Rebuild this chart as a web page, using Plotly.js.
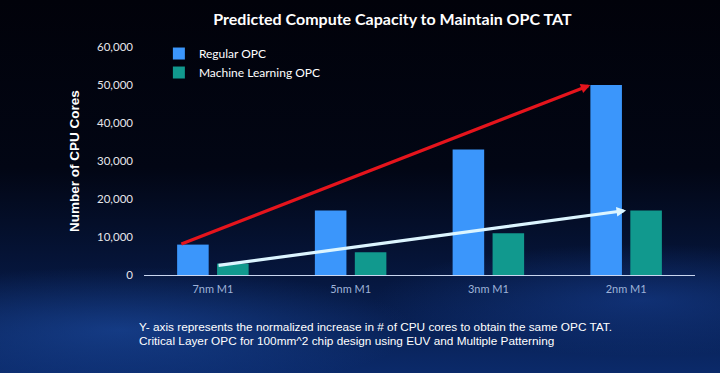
<!DOCTYPE html>
<html>
<head>
<meta charset="utf-8">
<script src="https://cdn.plot.ly/plotly-3.0.1.min.js"></script>
<style>
html,body{margin:0;padding:0;}
body{width:720px;height:373px;overflow:hidden;
background:
 radial-gradient(ellipse 420px 90px at 120px 330px, rgba(30,80,170,0.55), rgba(0,0,0,0) 70%),
 radial-gradient(ellipse 380px 80px at 640px 300px, rgba(25,70,160,0.5), rgba(0,0,0,0) 70%),
 linear-gradient(to bottom, #01020a 0%, #020614 45%, #06173f 75%, #0b2a6a 100%);}
#chart{width:720px;height:373px;}
</style>
</head>
<body>
<div id="chart"></div>
<script>
var categories = ["7nm M1", "5nm M1", "3nm M1", "2nm M1"];
var regularOPC = [8000, 17000, 33000, 50000];
var mlOPC = [3000, 6000, 11000, 17000];
var seriesNames = ["Regular OPC", "Machine Learning OPC"];
var yTickVals = [0, 10000, 20000, 30000, 40000, 50000, 60000];
var footnotes = [
  "Y- axis represents the normalized increase in # of CPU cores to obtain the same OPC TAT.",
  "Critical Layer OPC for 100mm^2 chip design using EUV and Multiple Patterning"
];

var traces = [
  {type: "bar", name: seriesNames[0], x: categories, y: regularOPC,
   marker: {color: "#3b96fb"}, hoverinfo: "skip"},
  {type: "bar", name: seriesNames[1], x: categories, y: mlOPC,
   marker: {color: "#11998e"}, hoverinfo: "skip"}
];

// left edges of bars in category units (derived from bargap/bargroupgap)
var bargap = 0.42, bargroupgap = 0.21;
var slot = (1 - bargap) / 2;
var blueLeft = -slot + slot * bargroupgap / 2;
var tealLeft = slot * bargroupgap / 2;
var last = categories.length - 1;

var layout = {
  width: 720, height: 373,
  margin: {l: 144, r: 25, t: 47, b: 98},
  paper_bgcolor: "rgba(0,0,0,0)",
  plot_bgcolor: "rgba(0,0,0,0)",
  barmode: "group",
  bargap: bargap,
  bargroupgap: bargroupgap,
  font: {family: "Lato, 'Open Sans', sans-serif", color: "#e8e8ee"},
  title: {
    text: "<b>Predicted Compute Capacity to Maintain OPC TAT</b>",
    font: {family: "Lato, 'Open Sans', sans-serif", size: 16, color: "#ffffff"},
    x: 0.545, xanchor: "center", xref: "container",
    y: 0.949, yanchor: "middle", yref: "container"
  },
  xaxis: {
    type: "category",
    showline: true, linecolor: "#c9d6f0", linewidth: 1,
    ticks: "", showgrid: false, zeroline: false,
    tickfont: {family: "Lato, sans-serif", size: 11, color: "#9fb3d8"},
    ticklabelstandoff: 4
  },
  yaxis: {
    range: [0, 60000],
    tickvals: yTickVals,
    tickformat: ",",
    showgrid: false, zeroline: false, showline: false, ticks: "",
    tickfont: {family: "Lato, sans-serif", size: 11.5, color: "#e6e6ea"},
    ticklabelstandoff: 10,
    title: {
      text: "<b>Number of CPU Cores</b>",
      font: {family: "'Liberation Sans', Arial, sans-serif", size: 13.5, color: "#ffffff"},
      standoff: 14
    }
  },
  legend: {
    x: 0.027, xanchor: "left", y: 1.035, yanchor: "top",
    bgcolor: "rgba(0,0,0,0)",
    font: {family: "Lato, sans-serif", size: 12, color: "#ffffff"},
    tracegroupgap: 0
  },
  showlegend: true,
  annotations: [
    {x: last + blueLeft, y: regularOPC[last], xref: "x", yref: "y",
     ax: 0 + blueLeft + 0.02, ay: regularOPC[0], axref: "x", ayref: "y",
     showarrow: true, arrowhead: 2, arrowsize: 0.6, arrowwidth: 3.2,
     arrowcolor: "#e5141c", standoff: 0, text: ""},
    {x: last, y: mlOPC[last], xref: "x", yref: "y",
     ax: 0 + tealLeft, ay: mlOPC[0] * 0.82, axref: "x", ayref: "y",
     showarrow: true, arrowhead: 2, arrowsize: 0.6, arrowwidth: 3.2,
     arrowcolor: "#dcf5ff", standoff: 0, text: ""},
    {x: -0.013, y: -0.228, xref: "paper", yref: "paper",
     xanchor: "left", yanchor: "middle", showarrow: false, align: "left",
     text: footnotes[0],
     font: {family: "'Liberation Sans', Arial, sans-serif", size: 11.8, color: "#ffffff"}},
    {x: -0.013, y: -0.29, xref: "paper", yref: "paper",
     xanchor: "left", yanchor: "middle", showarrow: false, align: "left",
     text: footnotes[1],
     font: {family: "'Liberation Sans', Arial, sans-serif", size: 11.8, color: "#ffffff"}}
  ]
};

Plotly.newPlot("chart", traces, layout, {displayModeBar: false, staticPlot: true});
</script>
</body>
</html>
